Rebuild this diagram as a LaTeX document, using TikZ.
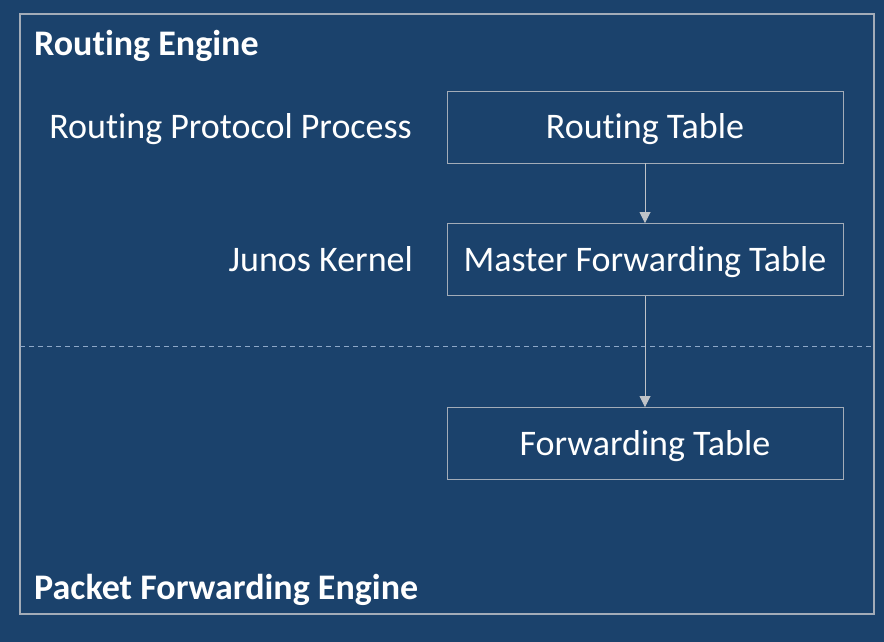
\documentclass[tikz,border=0pt]{standalone}
\usepackage{fontspec}
\setmainfont[Ligatures=NoCommon]{Carlito}
\usetikzlibrary{arrows.meta}
\definecolor{bgblue}{HTML}{1B426C}
\definecolor{edgegray}{HTML}{A3ACB8}
\definecolor{dashblue}{HTML}{8EA8C8}
\definecolor{tipgray}{HTML}{BFC3C8}
\tikzset{
  tbox/.style={draw=edgegray, line width=0.9pt, minimum width=396pt, minimum height=72pt, inner sep=0pt, text=white, font=\fontsize{36}{40}\selectfont, text height=23pt, text depth=0pt},
  lbl/.style={text=white, font=\fontsize{36}{40}\selectfont, inner sep=0pt, text height=23pt, text depth=0pt},
  title/.style={text=white, font=\bfseries\fontsize{36}{40}\selectfont, inner sep=0pt, anchor=west, text height=23pt, text depth=0pt},
  conn/.style={draw=tipgray, line width=0.8pt, -{Triangle[width=11pt,length=11pt,fill=tipgray]}}
}
\begin{document}
\begin{tikzpicture}[x=1pt,y=-1pt]
\fill[bgblue] (0,0) rectangle (884,642);
\useasboundingbox (0,0) rectangle (884,642);
\draw[edgegray, line width=1.2pt] (20,14) rectangle (874,614);
\draw[dashblue, line width=0.8pt, dash pattern=on 5pt off 4pt] (20,346) -- (874,346);
\node[title] (re) at (34,44.5) {Routing Engine};
\node[title] (pfe) at (34,588) {Packet Forwarding Engine};
\node[tbox] (rt) at (645,127) {Routing Table};
\node[tbox] (mft) at (645,259.5) {Master Forwarding Table};
\node[tbox] (ft) at (645,443.5) {Forwarding Table};
\node[lbl, anchor=east] (rpp) at (412,127.5) {Routing Protocol Process};
\node[lbl, anchor=east] (jk) at (413,260) {Junos Kernel};
\draw[conn] (rt.south) -- (mft.north);
\draw[conn] (mft.south) -- (ft.north);
\end{tikzpicture}
\end{document}
